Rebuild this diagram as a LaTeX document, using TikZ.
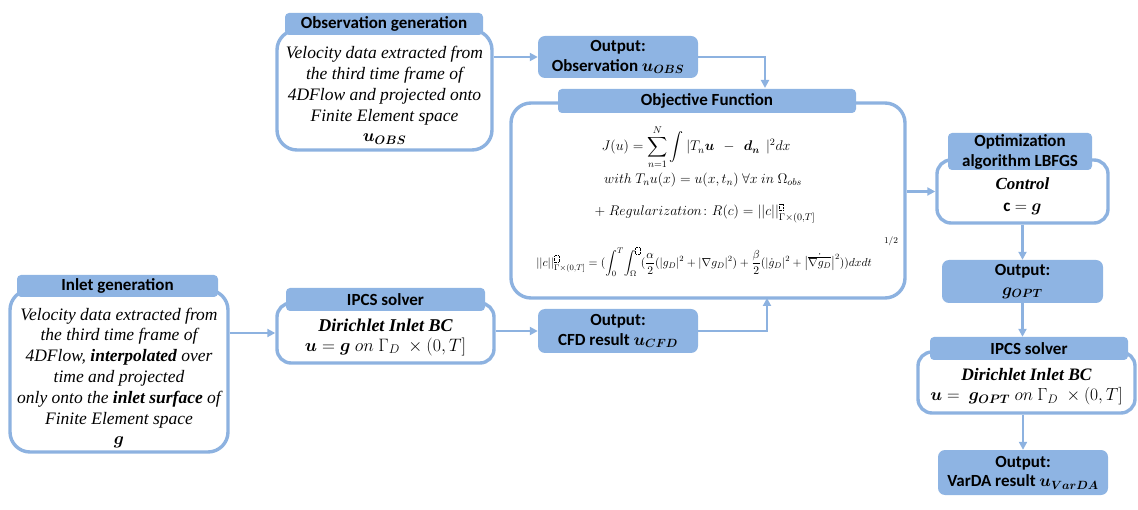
\RequirePackage{fix-cm}
\documentclass[tikz,border=0pt]{standalone}
\usepackage{amsmath,amssymb,bm}
\usepackage{fontspec}
\setmainfont{Liberation Serif}
\newfontfamily\hdrfont{Carlito}
\usetikzlibrary{arrows.meta}
\definecolor{hdr}{RGB}{142,180,227}
\definecolor{brd}{RGB}{141,178,224}
\newcommand{\phbx}{\tikz[baseline=0pt]\draw[densely dotted,line width=0.4pt] (0,0) rectangle (4.5pt,6.5pt);}
\begin{document}
\begin{tikzpicture}[x=1pt,y=-1pt,
  bodybox/.style={draw=brd,line width=3.4pt,rounded corners=20pt,fill=white,inner sep=0pt},
  hdrbox/.style={fill=hdr,rounded corners=4pt,inner sep=0pt,font=\hdrfont\bfseries\fontsize{17}{19}\selectfont,align=center},
  outbox/.style={fill=hdr,rounded corners=7pt,inner sep=0pt,font=\hdrfont\bfseries\fontsize{17}{19.5}\selectfont,align=center},
  bodytxt/.style={inner sep=0pt,align=center,font=\itshape\fontsize{17.5}{20.8}\selectfont},
  mtxt/.style={inner sep=0pt,font=\fontsize{14}{16}\selectfont},
  arr/.style={draw=brd,line width=2.4pt,-{Triangle[length=8pt,width=8pt]}},
]
\useasboundingbox (0,0) rectangle (1138,510);
% Observation generation
\node[bodybox,minimum width=215pt,minimum height=120pt] (obsBody) at (384.5,90) {};
\node[hdrbox,minimum width=198pt,minimum height=22pt] (obsHdr) at (384,24) {Observation generation};
\node[bodytxt] (obsTxt) at (384.5,95.5) {Velocity data extracted from\\the third time frame of\\4DFlow and projected onto\\Finite Element space\\$\bm{u_{OBS}}$};
% Output observation
\node[outbox,minimum width=160pt,minimum height=42pt] (obsOut) at (618,57) {Output:\\Observation $\bm{u}_{\bm{OBS}}$};
% Objective function
\node[bodybox,minimum width=394pt,minimum height=195pt] (objBody) at (708,200.5) {};
\node[hdrbox,minimum width=298pt,minimum height=24pt] (objHdr) at (707,101) {Objective Function};
\node[mtxt] (objL1) at (696,147) {$\displaystyle J(u) = \sum_{n=1}^{N}\int |T_n\bm{u}\;\,-\;\,\bm{d_n}\;\,|^2 dx$};
\node[mtxt] (objL2) at (703,180) {$with\ T_n u(x) = u(x,t_n)\ \forall x\ in\ \Omega_{obs}$};
\node[mtxt] (objL3) at (705,213) {$+\ Regularization\colon R(c) = ||c||_{\Gamma\times(0,T]}^{\phbx}$};
\node[inner sep=0pt,font=\fontsize{11.6}{13}\selectfont] (objL4) at (704,262) {$||c||_{\Gamma\times(0,T]}^{\phbx} = (\displaystyle\int_0^T\!\int_{\Omega}^{\phbx}(\frac{\alpha}{2}(|g_D|^2+|\nabla g_D|^2)+\frac{\beta}{2}(|\dot g_D|^2+\big|\dot{\overline{\nabla g_D}}\big|^2))dxdt$};
\node[inner sep=0pt,font=\fontsize{9}{10}\selectfont] (objExp) at (891,241) {$1/2$};
% Optimization
\node[bodybox,rounded corners=14pt,minimum width=171pt,minimum height=63pt] (optBody) at (1022.5,191.5) {};
\node[hdrbox,minimum width=144pt,minimum height=37pt,font=\hdrfont\bfseries\fontsize{17}{20}\selectfont] (optHdr) at (1020,151.5) {Optimization\\algorithm LBFGS};
\node[bodytxt,font=\fontsize{17}{22}\selectfont] (optTxt) at (1022.5,196) {{\bfseries\itshape Control}\\{\hdrfont\bfseries c} $= \bm{g}$};
% g_OPT
\node[outbox,minimum width=161pt,minimum height=43pt] (gOut) at (1022.5,281.5) {Output:\\$\bm{g}_{\bm{OPT}}$};
% IPCS right
\node[bodybox,rounded corners=14pt,minimum width=217pt,minimum height=61pt] (ipcsRBody) at (1026.5,382.5) {};
\node[hdrbox,minimum width=198pt,minimum height=23pt] (ipcsRHdr) at (1029,348.5) {IPCS solver};
\node[bodytxt,font=\fontsize{17.5}{20}\selectfont] (ipcsRTxt) at (1026.5,386.5) {{\bfseries\itshape Dirichlet Inlet BC}\\$\bm{u} =\ \bm{g}_{\bm{OPT}}\ on\ \Gamma_D\ \times(0,T]$};
% VarDA
\node[outbox,minimum width=170pt,minimum height=45pt] (vardaOut) at (1023,472.5) {Output:\\VarDA result $\bm{u}_{\bm{VarDA}}$};
% Inlet generation
\node[bodybox,minimum width=218pt,minimum height=162pt] (inletBody) at (119,371) {};
\node[hdrbox,minimum width=201pt,minimum height=22pt] (inletHdr) at (117.5,286) {Inlet generation};
\node[bodytxt] (inletTxt) at (119,378) {Velocity data extracted from\\the third time frame of\\4DFlow, \textbf{interpolated} over\\time and projected\\only onto the \textbf{inlet surface} of\\Finite Element space\\$\bm{g}$};
% IPCS left
\node[bodybox,rounded corners=14pt,minimum width=217pt,minimum height=60pt] (ipcsLBody) at (385.5,333) {};
\node[hdrbox,minimum width=199pt,minimum height=23pt] (ipcsLHdr) at (385.5,299.5) {IPCS solver};
\node[bodytxt,font=\fontsize{18}{20}\selectfont] (ipcsLTxt) at (385.5,337) {{\bfseries\itshape Dirichlet Inlet BC}\\$\bm{u} = \bm{g}\ on\ \Gamma_D\ \times(0,T]$};
% CFD output
\node[outbox,minimum width=160pt,minimum height=44pt] (cfdOut) at (618,331) {Output:\\CFD result $\bm{u}_{\bm{CFD}}$};
% connectors
\coordinate (objIn) at (765,88);
\coordinate (objIn2) at (767,298);
\draw[arr] (obsBody.east |- obsOut.west) -- (obsOut.west);
\draw[arr] (obsOut.east) -| (objIn);
\draw[arr] (inletBody.east |- ipcsLBody.west) -- (ipcsLBody.west);
\draw[arr] (ipcsLBody.east |- cfdOut.west) -- (cfdOut.west);
\draw[arr] (cfdOut.east) -| (objIn2);
\draw[arr] (objBody.east |- optBody.west) -- (optBody.west);
\draw[arr] (optBody.south) -- (gOut.north);
\draw[arr] (gOut.south) -- (gOut.south |- ipcsRHdr.north);
\draw[arr] (ipcsRBody.south -| vardaOut.north) -- (vardaOut.north);
\end{tikzpicture}
\end{document}
